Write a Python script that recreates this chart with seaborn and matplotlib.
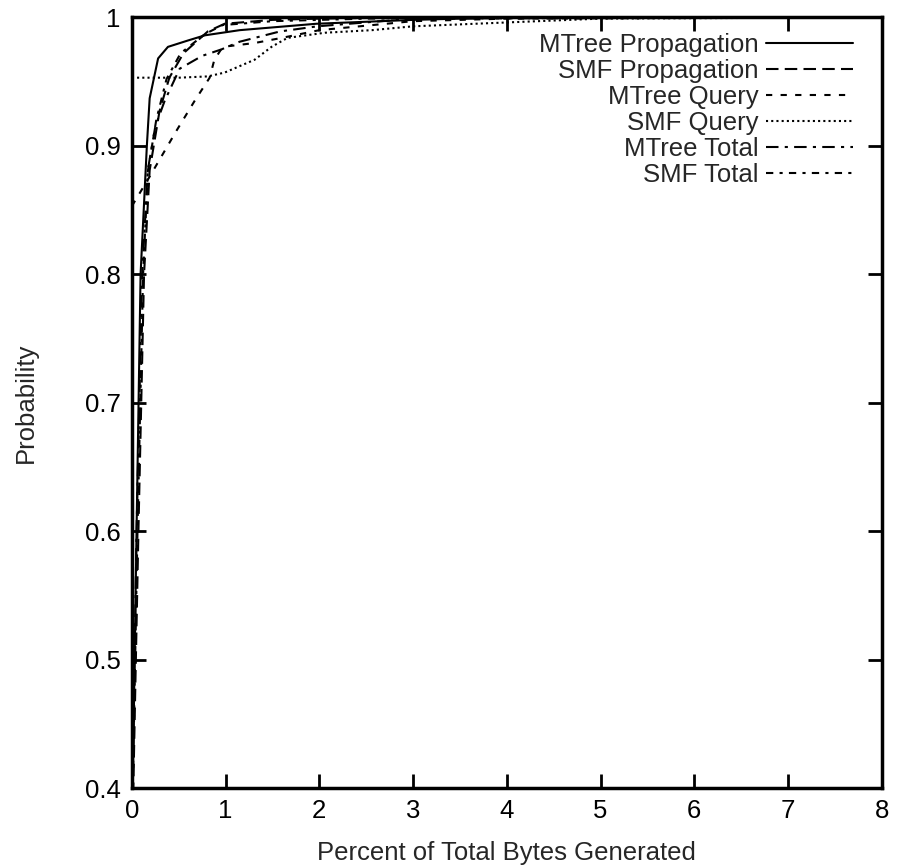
import numpy as np
import pandas as pd
import seaborn as sns
import matplotlib.pyplot as plt

# CDF curves (x = percent of total bytes, y = probability)
mtree_prop_x = [0.005, 0.05, 0.093, 0.16, 0.19, 0.28, 0.385, 0.6, 0.78, 1.15, 1.97, 3.0, 4.0, 8.0]
mtree_prop_y = [0.38, 0.60, 0.80, 0.90, 0.937, 0.968, 0.977, 0.982, 0.986, 0.990, 0.995, 0.998, 1.0, 1.0]

smf_prop_x = [0.01, 0.07, 0.13, 0.19, 0.295, 0.40, 0.55, 0.81, 0.99, 1.5, 2.0, 3.0, 8.0]
smf_prop_y = [0.38, 0.60, 0.80, 0.881, 0.927, 0.953, 0.972, 0.989, 0.995, 0.998, 0.999, 1.0, 1.0]

mtree_query_x = [0.0, 0.19, 0.47, 0.67, 0.83, 0.88, 0.97, 1.31, 1.60, 2.0, 3.0, 4.0, 8.0]
mtree_query_y = [0.853, 0.876, 0.911, 0.935, 0.953, 0.967, 0.977, 0.980, 0.984, 0.990, 0.997, 0.999, 1.0]

smf_query_x = [0.0, 0.5, 0.81, 0.99, 1.31, 1.49, 1.66, 2.06, 2.56, 3.0, 4.0, 5.0, 8.0]
smf_query_y = [0.953, 0.953, 0.954, 0.957, 0.967, 0.977, 0.984, 0.988, 0.990, 0.993, 0.996, 0.999, 1.0]

mtree_total_x = [0.005, 0.05, 0.11, 0.17, 0.25, 0.35, 0.51, 0.75, 0.955, 1.15, 1.58, 1.98, 3.0, 8.0]
mtree_total_y = [0.38, 0.60, 0.80, 0.881, 0.915, 0.935, 0.960, 0.970, 0.975, 0.981, 0.989, 0.993, 0.999, 1.0]

smf_total_x = [0.005, 0.06, 0.12, 0.17, 0.26, 0.37, 0.52, 0.78, 0.97, 1.5, 2.5, 8.0]
smf_total_y = [0.38, 0.60, 0.80, 0.88, 0.92, 0.952, 0.972, 0.987, 0.994, 0.997, 0.999, 1.0]

series = {
    'MTree Propagation': (mtree_prop_x, mtree_prop_y, '-'),
    'SMF Propagation': (smf_prop_x, smf_prop_y, (0, (6, 3))),
    'MTree Query': (mtree_query_x, mtree_query_y, (0, (3, 4))),
    'SMF Query': (smf_query_x, smf_query_y, (0, (1, 1.5))),
    'MTree Total': (mtree_total_x, mtree_total_y, (0, (6, 3, 1.5, 3))),
    'SMF Total': (smf_total_x, smf_total_y, (0, (3.5, 3, 1.5, 3))),
}

sns.set_style("ticks")
plt.rcParams['font.family'] = ['Liberation Sans', 'DejaVu Sans']
fs = 18.5

fig = plt.figure(figsize=(8.97, 8.66), dpi=100)
ax = fig.add_axes([0.147, 0.090, 0.836, 0.890])

for name, (xs, ys, ls) in series.items():
    df = pd.DataFrame({'x': xs, 'y': ys})
    sns.lineplot(data=df, x='x', y='y', ax=ax, color='black', linewidth=1.5,
                 linestyle=ls, label=name, sort=False, estimator=None)

ax.set_xlim(0, 8)
ax.set_ylim(0.4, 1.0)
ax.set_xticks(np.arange(0, 9, 1))
ax.set_yticks([0.4, 0.5, 0.6, 0.7, 0.8, 0.9, 1.0])
ax.set_yticklabels(['0.4', '0.5', '0.6', '0.7', '0.8', '0.9', '1'])
ax.tick_params(direction='in', length=10, width=2, labelsize=fs,
               top=True, right=True, pad=8, colors='black')
for sp in ax.spines.values():
    sp.set_linewidth(2.5)
    sp.set_color('black')

ax.set_xlabel('Percent of Total Bytes Generated', fontsize=fs, labelpad=13)
ax.set_ylabel('Probability', fontsize=fs, labelpad=34)

leg = ax.legend(loc='upper right', bbox_to_anchor=(0.988, 1.005), frameon=False,
                markerfirst=False, fontsize=fs, handlelength=3.4, labelspacing=0.08,
                borderaxespad=0.45, handletextpad=0.3, borderpad=0.3)

fig.savefig('out.png', dpi=100)
